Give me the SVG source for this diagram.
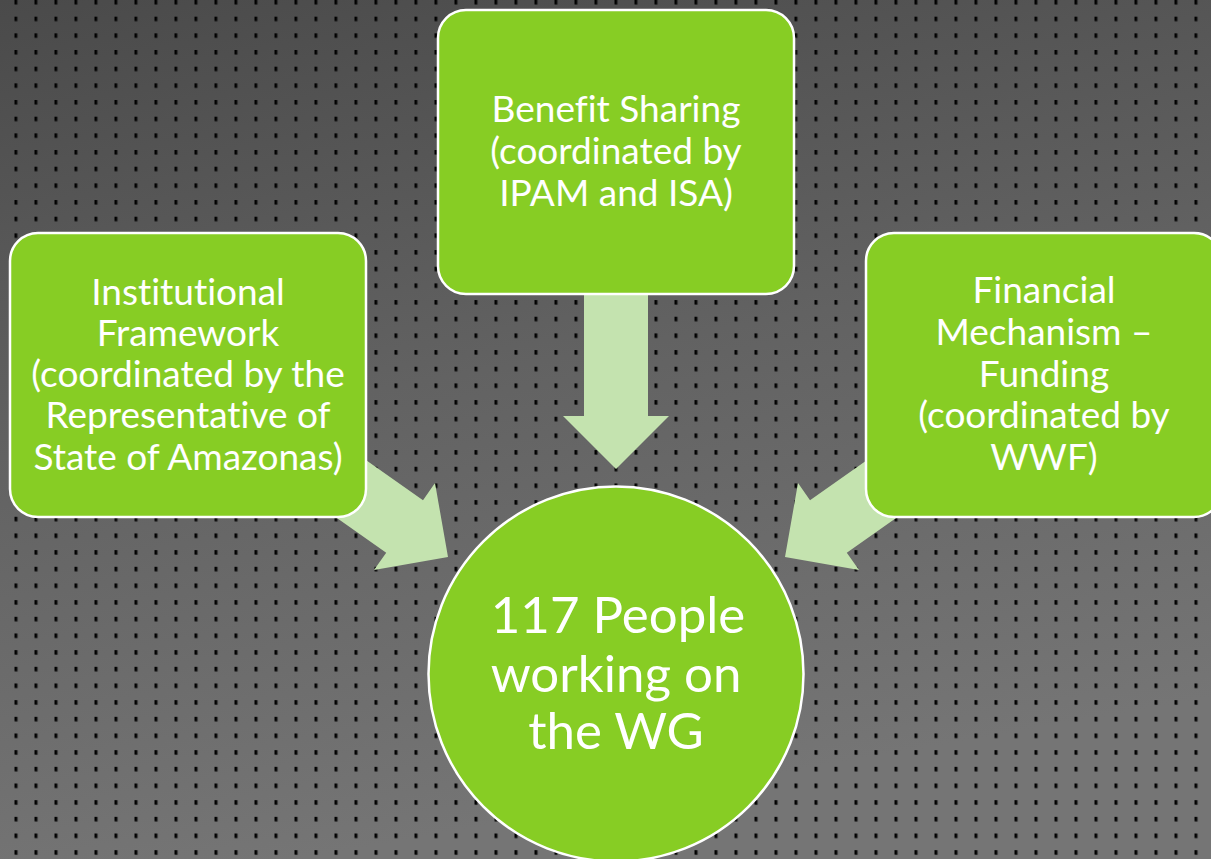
<svg xmlns="http://www.w3.org/2000/svg" width="1211" height="859" viewBox="0 0 1211 859">
  <defs>
    <linearGradient id="bg" x1="0" y1="0" x2="0.25" y2="1">
      <stop offset="0" stop-color="#4a4a4a"/>
      <stop offset="0.5" stop-color="#626262"/>
      <stop offset="1" stop-color="#757575"/>
    </linearGradient>
    <pattern id="dots" x="14.5" y="0" width="20" height="16.67" patternUnits="userSpaceOnUse">
      <rect x="0.6" y="0.2" width="2.6" height="4.6" fill="#3a3a3a"/>
      <rect x="0" y="0" width="2.6" height="4.4" fill="#000"/>
    </pattern>
    <style>
      .box { fill: #87cd24; stroke: #ffffff; stroke-width: 2.5; }
      .arrow { fill: #c4e3af; stroke: none; }
      .t { font-family: Lato, "Open Sans", "Liberation Sans", sans-serif; fill: #ffffff; text-anchor: middle; font-variant-ligatures: none; font-feature-settings: "liga" 0, "clig" 0; }
      .bt { font-size: 37px; }
      .ct { font-size: 51px; }
    </style>
  </defs>

  <rect x="0" y="0" width="1211" height="859" fill="url(#bg)"/>
  <rect x="0" y="0" width="1211" height="859" fill="url(#dots)"/>

  <g id="connectors">
    <polygon class="arrow" points="584,280 648,280 648,416 669,416 616,469 563,416 584,416"/>
    <polygon class="arrow" points="324,430.4 423,500.3 435,483 448,557 374,570 386.2,552.7 287.2,483"/>
    <polygon class="arrow" points="909,430.4 810,500.3 798,483 785,557 859,570 846.8,552.7 945.8,483"/>
  </g>

  <g id="node-institutional">
    <rect class="box" x="10" y="233" width="356" height="284" rx="28" ry="28"/>
    <text class="t bt" x="188" y="305">Institutional</text>
    <text class="t bt" x="188" y="346">Framework</text>
    <text class="t bt" x="188" y="387">(coordinated by the</text>
    <text class="t bt" x="188" y="428">Representative of</text>
    <text class="t bt" x="188" y="470">State of Amazonas)</text>
  </g>

  <g id="node-benefit">
    <rect class="box" x="438" y="10" width="356" height="284" rx="28" ry="28"/>
    <text class="t bt" x="616" y="122">Benefit Sharing</text>
    <text class="t bt" x="616" y="164">(coordinated by</text>
    <text class="t bt" x="616" y="206">IPAM and ISA)</text>
  </g>

  <g id="node-financial">
    <rect class="box" x="866" y="233" width="356" height="284" rx="28" ry="28"/>
    <text class="t bt" x="1044" y="303">Financial</text>
    <text class="t bt" x="1044" y="345">Mechanism –</text>
    <text class="t bt" x="1044" y="387">Funding</text>
    <text class="t bt" x="1044" y="428">(coordinated by</text>
    <text class="t bt" x="1044" y="470">WWF)</text>
  </g>

  <g id="node-people">
    <circle class="box" cx="616" cy="674" r="187.5"/>
    <text class="t ct" x="618" y="633">117 People</text>
    <text class="t ct" x="616" y="692">working on</text>
    <text class="t ct" x="616" y="749">the WG</text>
  </g>
</svg>
